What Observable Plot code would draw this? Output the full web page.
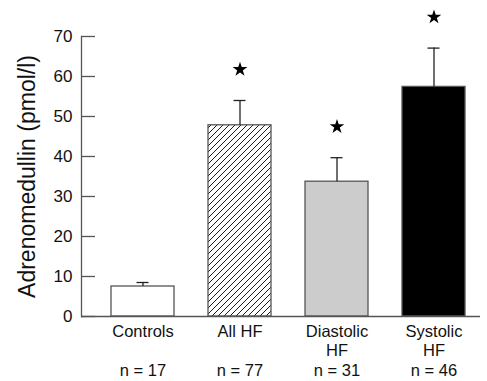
<!DOCTYPE html>
<html><head><meta charset="utf-8">
<script src="https://cdn.jsdelivr.net/npm/d3@7"></script>
<script src="https://cdn.jsdelivr.net/npm/@observablehq/plot@0.6"></script>
<style>
body{margin:0;background:#fff}
#chart svg{font-family:"Liberation Sans",Arial,Helvetica,sans-serif;background:#fff}
g[aria-label="y-axis label"] text{font-size:23px}
</style></head><body>
<svg width="0" height="0" style="position:absolute">
<defs><pattern id="hatch" patternUnits="userSpaceOnUse" width="6" height="6">
<rect width="6" height="6" fill="white"/>
<path d="M-1,1 l2,-2 M0,6 l6,-6 M5,7 l2,-2" stroke="black" stroke-width="0.9"/>
</pattern></defs></svg>
<div id="chart"></div>
<script>
const categories = ["Controls", "All HF", "Diastolic HF", "Systolic HF"];
const labelLines = ["Controls\n", "All HF\n", "Diastolic\nHF", "Systolic\nHF"];
const nCounts = [17, 77, 31, 46];
const means = [7.5, 47.8, 33.7, 57.4];
const sem = [1.0, 6.2, 6.0, 9.7];
const significant = [false, true, true, true];
const yTicks = [0, 10, 20, 30, 40, 50, 60, 70];
const fills = ["white", "url(#hatch)", "#cccccc", "black"];

const data = categories.map((c, i) => ({cat: c, mean: means[i], upper: means[i] + sem[i], sig: significant[i]}));

const chart = Plot.plot({
  width: 487,
  height: 381,
  marginTop: 36,
  marginBottom: 65,
  marginLeft: 81,
  marginRight: 7,
  x: {domain: categories, range: [94, 482], paddingInner: 0.35, paddingOuter: 0.175},
  y: {domain: [0, 70]},
  color: {domain: categories, range: fills},
  marks: [
    Plot.barY(data, {x: "cat", y: "mean", fill: "cat", stroke: "#555", strokeWidth: 1.3}),
    Plot.ruleX(data, {x: "cat", y1: "mean", y2: "upper", stroke: "#222", strokeWidth: 1.3}),
    Plot.tickY(data, {x: "cat", y: "upper", stroke: "#222", strokeWidth: 1.3, insetLeft: 25.5, insetRight: 25.5}),
    Plot.dot(data.filter(d => d.sig), {x: "cat", y: "upper", dy: -31, symbol: "star", fill: "black", stroke: "none", r: 4.6}),
    Plot.frame({anchor: "left", stroke: "#555", strokeWidth: 1.3}),
    Plot.ruleY([0], {stroke: "#555", strokeWidth: 1.3}),
    Plot.axisY({ticks: yTicks, tickSize: -14, tickPadding: 23, fontSize: 17, stroke: "#555", strokeWidth: 1.3,
      label: "Adrenomedullin (pmol/l)", labelAnchor: "center", labelArrow: "none", labelOffset: 63, color: "#111"}),
    Plot.axisX({tickSize: 0, tickPadding: 6, fontSize: 16.5, lineHeight: 1.2, color: "#111",
      tickFormat: d => { const i = categories.indexOf(d); return labelLines[i] + "\nn = " + nCounts[i]; },
      label: null})
  ]
});
document.getElementById("chart").appendChild(chart);
</script>
</body></html>
